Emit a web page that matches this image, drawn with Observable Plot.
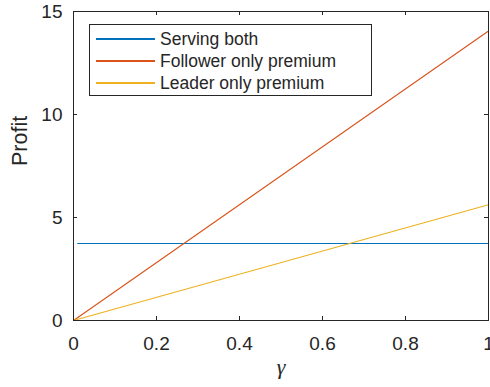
<!DOCTYPE html>
<html>
<head>
<meta charset="utf-8">
<script src="https://cdn.jsdelivr.net/npm/d3@7"></script>
<script src="https://cdn.jsdelivr.net/npm/@observablehq/plot@0.6"></script>
<style>
  html, body { margin: 0; padding: 0; background: #fff; }
  #chart { position: relative; width: 490px; height: 387px; }
  .legend {
    position: absolute; left: 89px; top: 24px; width: 281px; height: 70px;
    border: 1px solid #262626; background: #fff;
    font-family: "Liberation Sans", Arial, sans-serif; font-size: 17.5px; color: #262626;
  }
  .legend .row { position: absolute; left: 0; height: 22px; display: flex; align-items: center; }
  .legend .swatch { display: block; width: 59px; height: 2px; margin-left: 6px; margin-right: 5px; }
</style>
</head>
<body>
<div id="chart"></div>
<script>
// Profit as a function of gamma for the three strategies
const gammaBoth = [0.01, 1];
const servingBoth = [3.74, 3.74];
const gammaPremium = [0, 1];
const followerOnlyPremium = [0, 14.05];
const leaderOnlyPremium = [0, 5.62];

const seriesNames = ["Serving both", "Follower only premium", "Leader only premium"];
const seriesColors = ["#0072BD", "#D95319", "#EDB120"];

const xTicks = [0, 0.2, 0.4, 0.6, 0.8, 1];
const yTicks = [0, 5, 10, 15];

const rows = [
  ...gammaBoth.map((g, i) => ({gamma: g, profit: servingBoth[i], series: seriesNames[0]})),
  ...gammaPremium.map((g, i) => ({gamma: g, profit: followerOnlyPremium[i], series: seriesNames[1]})),
  ...gammaPremium.map((g, i) => ({gamma: g, profit: leaderOnlyPremium[i], series: seriesNames[2]}))
];

const ink = "#262626";

// plot frame geometry
const W = 490, H = 387;
const mL = 73, mR = 2, mT = 11, mB = 67;
const tickLen = 4;
const frameW = W - mL - mR;
const frameH = H - mT - mB;

const chart = Plot.plot({
  width: W,
  height: H,
  marginLeft: mL,
  marginRight: mR,
  marginTop: mT,
  marginBottom: mB,
  style: {fontFamily: "'Liberation Sans', Arial, sans-serif", fontSize: "19px", color: ink, background: "#fff"},
  x: {domain: [0, 1]},
  y: {domain: [0, 15]},
  color: {domain: seriesNames, range: seriesColors},
  marks: [
    Plot.line(rows, {x: "gamma", y: "profit", z: "series", stroke: "series", strokeWidth: 1.1}),
    Plot.frame({stroke: ink, strokeWidth: 1}),
    // tick labels
    Plot.axisX({anchor: "bottom", ticks: xTicks, tickSize: 0, tickPadding: 15.5, tickFormat: d => String(d), label: null}),
    Plot.axisY({anchor: "left", ticks: yTicks, tickSize: 0, tickPadding: 11, tickFormat: d => String(d), label: null}),
    // short inward tick marks on all four sides of the box
    Plot.tickX(xTicks, {x: d => d, stroke: ink, insetTop: frameH - tickLen}),
    Plot.tickX(xTicks, {x: d => d, stroke: ink, insetBottom: frameH - tickLen}),
    Plot.tickY(yTicks, {y: d => d, stroke: ink, insetRight: frameW - tickLen}),
    Plot.tickY(yTicks, {y: d => d, stroke: ink, insetLeft: frameW - tickLen}),
    Plot.text(["γ"], {frameAnchor: "bottom", dy: 53, fontSize: 22, fontStyle: "italic", fontFamily: "'Liberation Serif', 'Times New Roman', serif", fill: ink}),
    Plot.text(["Profit"], {frameAnchor: "left", dx: -53, rotate: -90, fontSize: 21.5, fill: ink})
  ]
});

const container = document.getElementById("chart");
container.appendChild(chart);

// Legend box in the upper-left corner of the axes
const legend = document.createElement("div");
legend.className = "legend";
seriesNames.forEach((name, i) => {
  const row = document.createElement("div");
  row.className = "row";
  row.style.top = (3 + i * 22) + "px";
  const sw = document.createElement("span");
  sw.className = "swatch";
  sw.style.background = seriesColors[i];
  const label = document.createElement("span");
  label.textContent = name;
  row.appendChild(sw);
  row.appendChild(label);
  legend.appendChild(row);
});
container.appendChild(legend);
</script>
</body>
</html>
